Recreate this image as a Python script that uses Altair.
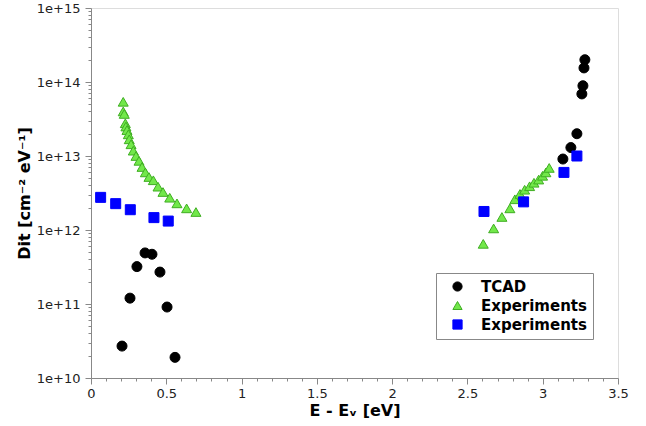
import altair as alt
import pandas as pd

# TCAD (black circles)
tcad_x = [0.206, 0.259, 0.305, 0.359, 0.405, 0.458, 0.505, 0.558,
          3.134, 3.187, 3.227, 3.260, 3.267, 3.274, 3.280]
tcad_y = [2.7e10, 1.2e11, 3.2e11, 4.9e11, 4.7e11, 2.7e11, 9.1e10, 1.9e10,
          9.1e12, 1.3e13, 2.0e13, 6.9e13, 8.9e13, 1.55e14, 2.0e14]

# Experiments (green triangles)
exp1_x = [0.214, 0.214, 0.221, 0.228, 0.232, 0.239, 0.248, 0.254, 0.266, 0.281,
          0.299, 0.319, 0.339, 0.361, 0.385, 0.414, 0.445, 0.478, 0.523, 0.571,
          0.635, 0.697,
          2.605, 2.674, 2.729, 2.782, 2.815, 2.849, 2.880, 2.913, 2.942, 2.973,
          2.999, 3.021, 3.043]
exp1_y = [5.4e13, 4.0e13, 3.7e13, 2.77e13, 2.5e13, 2.24e13, 1.96e13, 1.68e13, 1.44e13, 1.18e13,
          1.0e13, 8.6e12, 7.1e12, 6.0e12, 5.2e12, 4.7e12, 3.85e12, 3.26e12, 2.73e12, 2.29e12,
          1.96e12, 1.75e12,
          6.5e11, 1.05e12, 1.5e12, 1.96e12, 2.6e12, 3.07e12, 3.5e12, 3.9e12, 4.35e12, 4.8e12,
          5.4e12, 6.0e12, 6.9e12]

# Experiments (blue squares)
exp2_x = [0.064, 0.164, 0.261, 0.418, 0.513, 2.610, 2.873, 3.141, 3.227]
exp2_y = [2.76e12, 2.27e12, 1.88e12, 1.47e12, 1.32e12, 1.78e12, 2.4e12, 6.0e12, 1.0e13]

series_keys = ["TCAD", "Exp1", "Exp2"]

x_ticks = [round(i * 0.1, 1) for i in range(0, 36)]
y_ticks = [m * 10.0 ** e for e in range(10, 15) for m in range(1, 10)] + [1e15]

rows = []
for k, xs, ys in [("TCAD", tcad_x, tcad_y), ("Exp1", exp1_x, exp1_y), ("Exp2", exp2_x, exp2_y)]:
    for a, b in zip(xs, ys):
        rows.append({"x": a, "y": b, "series": k})
df = pd.DataFrame(rows)

FONT = "DejaVu Sans"

is_major_x = "abs(datum.value*2 - round(datum.value*2)) < 0.001"
is_major_y = "abs(log(datum.value)/LN10 - round(log(datum.value)/LN10)) < 0.0001"

x_axis = alt.Axis(
    values=x_ticks,
    format=".1~f",
    labelExpr=f"({is_major_x}) ? datum.label : ''",
    tickSize={"condition": {"test": is_major_x, "value": 6}, "value": 3},
    grid=False,
    domainColor="#888888",
    tickColor="#888888",
    labelColor="#222222",
    labelFont=FONT,
    labelFontSize=13,
    labelPadding=3,
    labelFlush=False,
    labelOverlap=False,
    title="E - Eᵥ [eV]",
    titleFont=FONT,
    titleFontSize=16,
    titleFontWeight="bold",
    titleColor="#000000",
    titlePadding=2,
)

y_axis = alt.Axis(
    values=y_ticks,
    labelExpr=f"({is_major_y}) ? '1e+' + round(log(datum.value)/LN10) : ''",
    tickSize={"condition": {"test": is_major_y, "value": 6}, "value": 3},
    grid=False,
    domainColor="#888888",
    tickColor="#888888",
    labelColor="#222222",
    labelFont=FONT,
    labelFontSize=13,
    labelPadding=5,
    labelFlush=False,
    labelOverlap=False,
    title="Dit [cm⁻² eV⁻¹]",
    titleFont=FONT,
    titleFontSize=16,
    titleFontWeight="bold",
    titleColor="#000000",
    titlePadding=4,
)

legend = alt.Legend(
    title=None,
    orient="none",
    legendX=345,
    legendY=265,
    labelExpr="datum.value == 'TCAD' ? 'TCAD' : 'Experiments'",
    labelFont=FONT,
    labelFontSize=15,
    labelFontWeight="bold",
    labelColor="#000000",
    labelOffset=16,
    symbolOffset=8,
    symbolSize=85,
    rowPadding=3,
    padding=6,
    strokeColor="#888888",
    fillColor="#ffffff",
    symbolStrokeWidth=1,
)

chart = alt.Chart(df).mark_point(filled=True, opacity=1, strokeWidth=1, size=100).encode(
    x=alt.X("x:Q", scale=alt.Scale(domain=[0, 3.5], nice=False, zero=False), axis=x_axis),
    y=alt.Y("y:Q", scale=alt.Scale(type="log", domain=[1e10, 1e15], nice=False), axis=y_axis),
    fill=alt.Fill("series:N", scale=alt.Scale(domain=series_keys, range=["#000000", "#72e84a", "#0000ff"]), legend=legend),
    stroke=alt.Stroke("series:N", scale=alt.Scale(domain=series_keys, range=["#000000", "#3fae22", "#0000ff"]), legend=legend),
    shape=alt.Shape("series:N", scale=alt.Scale(domain=series_keys, range=["circle", "triangle-up", "square"]), legend=legend),
).properties(
    width=527,
    height=370,
    autosize=alt.AutoSizeParams(type="none"),
    padding={"left": 91, "top": 8, "right": 28, "bottom": 48},
).configure_view(
    stroke="#888888",
    strokeWidth=1,
).configure(
    background="#ffffff",
)

chart.save("out.html", embed_options={"renderer": "svg", "actions": False})
